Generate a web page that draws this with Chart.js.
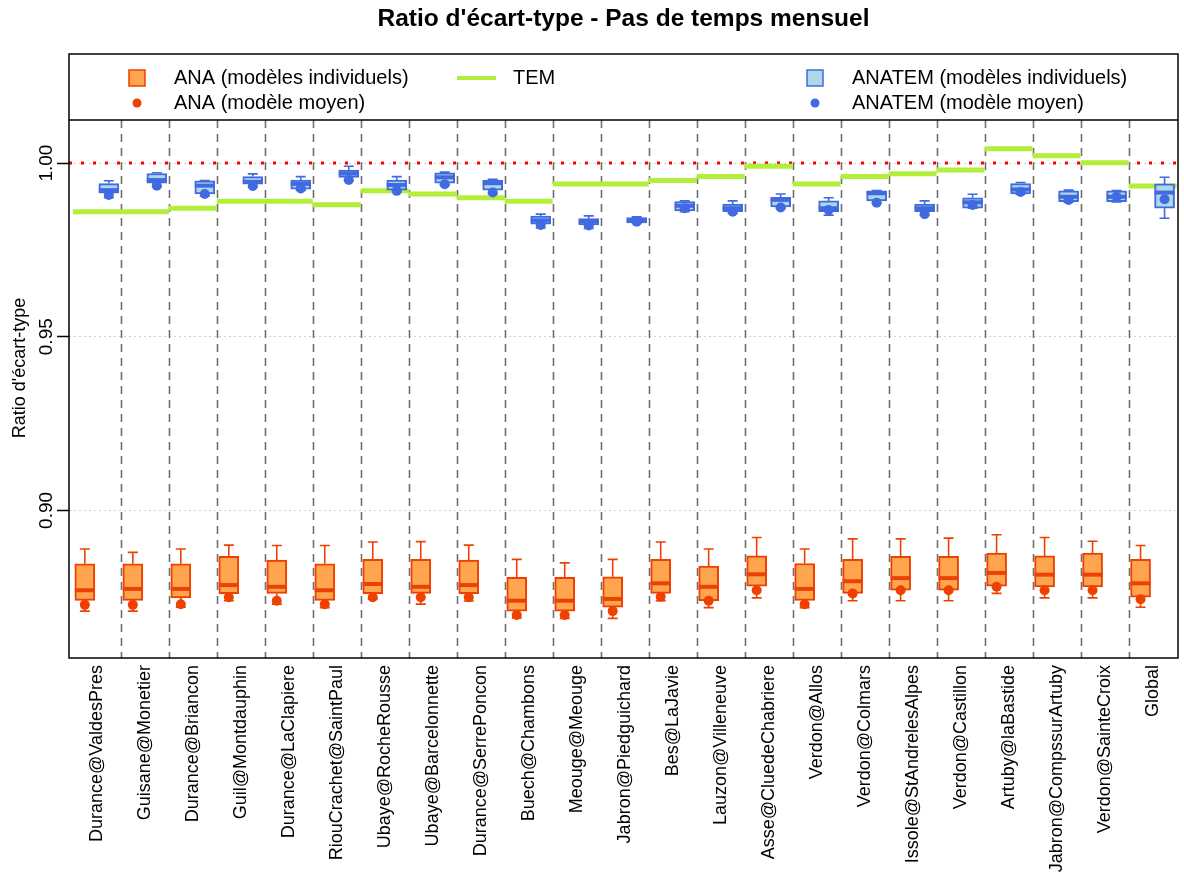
<!DOCTYPE html>
<html>
<head>
<meta charset="utf-8">
<script src="https://cdn.jsdelivr.net/npm/chart.js@4.4.1/dist/chart.umd.min.js"></script>
<style>
  html, body { margin:0; padding:0; background:#fff; }
  canvas { display:block; }
</style>
</head>
<body>
<canvas id="chart" width="1184" height="874"></canvas>
<script>
// Stations (x axis)
const stations = ['Durance@ValdesPres','Guisane@Monetier','Durance@Briancon','Guil@Montdauphin',
  'Durance@LaClapiere','RiouCrachet@SaintPaul','Ubaye@RocheRousse','Ubaye@Barcelonnette',
  'Durance@SerrePoncon','Buech@Chambons','Meouge@Meouge','Jabron@Piedguichard','Bes@LaJavie',
  'Lauzon@Villeneuve','Asse@CluedeChabriere','Verdon@Allos','Verdon@Colmars',
  'Issole@StAndrelesAlpes','Verdon@Castillon','Artuby@laBastide','Jabron@CompssurArtuby',
  'Verdon@SainteCroix','Global'];

// TEM : one value per station
const temRatio = [0.9860,0.9860,0.9870,0.9890,0.9890,0.9880,0.9920,0.9911,0.9900,0.9890,0.9940,0.9940,
  0.9950,0.9961,0.9991,0.9940,0.9961,0.9969,0.9980,1.0041,1.0021,1.0001,0.9934];

// ANA : box stats (individual models) + mean model
const anaLow  = [0.8710,0.8710,0.8721,0.8740,0.8730,0.8720,0.8745,0.8730,0.8739,0.8690,0.8689,0.8689,
  0.8740,0.8720,0.8748,0.8720,0.8740,0.8740,0.8740,0.8761,0.8748,0.8748,0.8721];
const anaQ1   = [0.8741,0.8741,0.8748,0.8760,0.8761,0.8741,0.8760,0.8761,0.8760,0.8710,0.8710,0.8721,
  0.8761,0.8740,0.8782,0.8741,0.8761,0.8770,0.8770,0.8782,0.8780,0.8780,0.8750];
const anaMed  = [0.8770,0.8774,0.8774,0.8785,0.8780,0.8770,0.8788,0.8780,0.8785,0.8740,0.8740,0.8745,
  0.8790,0.8780,0.8816,0.8774,0.8796,0.8805,0.8805,0.8820,0.8815,0.8815,0.8790];
const anaQ3   = [0.8846,0.8846,0.8846,0.8868,0.8857,0.8846,0.8859,0.8859,0.8857,0.8807,0.8807,0.8809,
  0.8859,0.8840,0.8869,0.8847,0.8859,0.8868,0.8868,0.8877,0.8869,0.8877,0.8859];
const anaHigh = [0.8889,0.8879,0.8889,0.8900,0.8899,0.8899,0.8909,0.8910,0.8900,0.8859,0.8849,0.8859,
  0.8909,0.8889,0.8922,0.8889,0.8918,0.8918,0.8920,0.8930,0.8922,0.8911,0.8899];
const anaMean = [0.8728,0.8728,0.8730,0.8750,0.8740,0.8730,0.8750,0.8750,0.8750,0.8699,0.8699,0.8710,
  0.8751,0.8740,0.8770,0.8730,0.8761,0.8770,0.8770,0.8780,0.8770,0.8770,0.8744];

// ANATEM : box stats (individual models) + mean model
const anatemLow  = [0.9900,0.9932,0.9905,0.9932,0.9922,0.9950,0.9918,0.9938,0.9912,0.9813,0.9812,0.9826,
  0.9860,0.9855,0.9870,0.9850,0.9885,0.9850,0.9870,0.9910,0.9887,0.9888,0.9841];
const anatemQ1   = [0.9913,0.9942,0.9911,0.9939,0.9925,0.9959,0.9922,0.9942,0.9922,0.9824,0.9822,0.9828,
  0.9862,0.9860,0.9874,0.9860,0.9891,0.9860,0.9870,0.9911,0.9889,0.9889,0.9870];
const anatemMed  = [0.9922,0.9951,0.9935,0.9946,0.9940,0.9970,0.9937,0.9959,0.9942,0.9835,0.9832,0.9834,
  0.9877,0.9870,0.9894,0.9870,0.9913,0.9870,0.9887,0.9924,0.9903,0.9903,0.9915];
const anatemQ3   = [0.9941,0.9970,0.9949,0.9961,0.9951,0.9980,0.9951,0.9972,0.9951,0.9847,0.9840,0.9843,
  0.9889,0.9882,0.9901,0.9891,0.9920,0.9882,0.9900,0.9941,0.9920,0.9920,0.9940];
const anatemHigh = [0.9949,0.9972,0.9950,0.9969,0.9961,0.9991,0.9961,0.9974,0.9953,0.9853,0.9848,0.9845,
  0.9891,0.9891,0.9911,0.9900,0.9921,0.9891,0.9910,0.9944,0.9922,0.9921,0.9959];
const anatemMean = [0.9908,0.9935,0.9911,0.9934,0.9927,0.9951,0.9920,0.9939,0.9915,0.9822,0.9820,0.9831,
  0.9870,0.9860,0.9872,0.9865,0.9886,0.9853,0.9879,0.9917,0.9894,0.9903,0.9896];

const yTicks = [0.90, 0.95, 1.00];
const refRatio = 1.0;

const FONT = '"Liberation Sans", Arial, sans-serif';
const ANA_FILL = '#FFA54F', ANA_LINE = '#EE4000';
const ANATEM_FILL = '#ADD8E6', ANATEM_LINE = '#4169E1';
const TEM_COLOR = '#B3EE3A';
const X_MIN = 0.42, X_MAX = 23.53;
const LEGEND_H = 66;
const BOX_W = 20;

// one segment per station for TEM, separated by gaps
const temPoints = [];
temRatio.forEach(function(v, i){
  temPoints.push({ x:i + 0.5, y:v }, { x:i + 1.5, y:v }, { x:i + 1.5, y:null });
});

function boxStats(lo, q1, med, q3, hi, shift) {
  return stations.map(function(s, i){
    return { x:i + 1 + shift, lo:lo[i], q1:q1[i], med:med[i], q3:q3[i], hi:hi[i] };
  });
}

const anaBoxes = boxStats(anaLow, anaQ1, anaMed, anaQ3, anaHigh, -0.25);
const anatemBoxes = boxStats(anatemLow, anatemQ1, anatemMed, anatemQ3, anatemHigh, 0.25);

// whiskers, caps and medians drawn right after each box dataset
const boxExtras = {
  id:'boxExtras',
  afterDatasetDraw(chart, args) {
    const ds = chart.data.datasets[args.index];
    if (!ds.stats) return;
    const xs = chart.scales.x, ys = chart.scales.y, ctx = chart.ctx;
    ctx.save();
    ctx.strokeStyle = ds.borderColor;
    ds.stats.forEach(function(s){
      const cx = xs.getPixelForValue(s.x);
      const half = BOX_W / 2;
      ctx.lineWidth = 1.6;
      ctx.beginPath();
      ctx.moveTo(cx, ys.getPixelForValue(s.q3)); ctx.lineTo(cx, ys.getPixelForValue(s.hi));
      ctx.moveTo(cx, ys.getPixelForValue(s.q1)); ctx.lineTo(cx, ys.getPixelForValue(s.lo));
      ctx.moveTo(cx - half / 2, ys.getPixelForValue(s.hi)); ctx.lineTo(cx + half / 2, ys.getPixelForValue(s.hi));
      ctx.moveTo(cx - half / 2, ys.getPixelForValue(s.lo)); ctx.lineTo(cx + half / 2, ys.getPixelForValue(s.lo));
      ctx.stroke();
      ctx.lineWidth = 4;
      ctx.beginPath();
      ctx.moveTo(cx - half, ys.getPixelForValue(s.med)); ctx.lineTo(cx + half, ys.getPixelForValue(s.med));
      ctx.stroke();
    });
    ctx.restore();
  }
};

// station separators, frame, legend and y title
const frame = {
  id:'frame',
  beforeDatasetsDraw(chart) {
    const a = chart.chartArea, xs = chart.scales.x, ctx = chart.ctx;
    ctx.save();
    ctx.strokeStyle = '#707070';
    ctx.lineWidth = 1.6;
    ctx.setLineDash([8, 6]);
    for (let k = 1; k < stations.length; k++) {
      const px = Math.round(xs.getPixelForValue(k + 0.5)) + 0.5;
      ctx.beginPath();
      ctx.moveTo(px, a.top + LEGEND_H);
      ctx.lineTo(px, a.bottom);
      ctx.stroke();
    }
    ctx.restore();
  },
  afterDraw(chart) {
    const a = chart.chartArea, ctx = chart.ctx;
    ctx.save();
    ctx.fillStyle = '#fff';
    ctx.fillRect(a.left, a.top, a.right - a.left, LEGEND_H);
    ctx.strokeStyle = '#000';
    ctx.lineWidth = 1.5;
    ctx.strokeRect(a.left, a.top, a.right - a.left, a.bottom - a.top);
    ctx.beginPath();
    ctx.moveTo(a.left, a.top + LEGEND_H);
    ctx.lineTo(a.right, a.top + LEGEND_H);
    ctx.stroke();

    const r1 = a.top + 24, r2 = a.top + 49;
    ctx.font = '20px ' + FONT;
    ctx.fillStyle = '#000';
    ctx.textBaseline = 'middle';
    ctx.textAlign = 'left';
    // ANA
    ctx.fillStyle = ANA_FILL; ctx.fillRect(129, r1 - 8, 16, 16);
    ctx.strokeStyle = ANA_LINE; ctx.lineWidth = 1.5; ctx.strokeRect(129, r1 - 8, 16, 16);
    ctx.fillStyle = ANA_LINE; ctx.beginPath(); ctx.arc(137, r2, 4.5, 0, Math.PI * 2); ctx.fill();
    ctx.fillStyle = '#000';
    ctx.fillText('ANA (modèles individuels)', 174, r1);
    ctx.fillText('ANA (modèle moyen)', 174, r2);
    // TEM
    ctx.strokeStyle = TEM_COLOR; ctx.lineWidth = 4;
    ctx.beginPath(); ctx.moveTo(457, r1); ctx.lineTo(496, r1); ctx.stroke();
    ctx.fillText('TEM', 513, r1);
    // ANATEM
    ctx.fillStyle = ANATEM_FILL; ctx.fillRect(807, r1 - 8, 16, 16);
    ctx.strokeStyle = ANATEM_LINE; ctx.lineWidth = 1.5; ctx.strokeRect(807, r1 - 8, 16, 16);
    ctx.fillStyle = ANATEM_LINE; ctx.beginPath(); ctx.arc(815, r2, 4.5, 0, Math.PI * 2); ctx.fill();
    ctx.fillStyle = '#000';
    ctx.fillText('ANATEM (modèles individuels)', 852, r1);
    ctx.fillText('ANATEM (modèle moyen)', 852, r2);

    // y axis title
    ctx.font = '18px ' + FONT;
    ctx.textAlign = 'center';
    ctx.translate(20, 368);
    ctx.rotate(-Math.PI / 2);
    ctx.fillText("Ratio d'écart-type", 0, 0);
    ctx.restore();
  }
};

new Chart(document.getElementById('chart'), {
  type:'scatter',
  data:{
    datasets:[
      { type:'line', data:[{ x:X_MIN, y:refRatio }, { x:X_MAX, y:refRatio }],
        borderColor:'#FF0000', borderWidth:3, borderDash:[3, 9], pointRadius:0, order:10 },
      { type:'line', data:temPoints, borderColor:TEM_COLOR, borderWidth:5,
        borderCapStyle:'butt', pointRadius:0, spanGaps:false, order:9 },
      { type:'bar', data:anaBoxes.map(b => ({ x:b.x, y:[b.q1, b.q3] })), stats:anaBoxes,
        backgroundColor:ANA_FILL, borderColor:ANA_LINE, borderWidth:2, borderSkipped:false,
        barThickness:BOX_W, grouped:false, order:8 },
      { type:'bar', data:anatemBoxes.map(b => ({ x:b.x, y:[b.q1, b.q3] })), stats:anatemBoxes,
        backgroundColor:ANATEM_FILL, borderColor:ANATEM_LINE, borderWidth:2, borderSkipped:false,
        barThickness:BOX_W, grouped:false, order:7 },
      { type:'scatter', data:anaMean.map((v, i) => ({ x:i + 0.75, y:v })),
        backgroundColor:ANA_LINE, borderWidth:0, pointRadius:5, order:6 },
      { type:'scatter', data:anatemMean.map((v, i) => ({ x:i + 1.25, y:v })),
        backgroundColor:ANATEM_LINE, borderWidth:0, pointRadius:5, order:5 }
    ]
  },
  options:{
    responsive:false,
    animation:false,
    devicePixelRatio:1,
    layout:{ padding:{ left:0, right:6, top:0, bottom:0 } },
    plugins:{
      legend:{ display:false },
      tooltip:{ enabled:false },
      title:{ display:true, fullSize:false, text:"Ratio d'écart-type - Pas de temps mensuel",
        color:'#000', font:{ family:FONT, size:24.5, weight:'bold' }, padding:{ top:5, bottom:19.6 } }
    },
    scales:{
      x:{
        type:'linear', min:X_MIN, max:X_MAX, offset:false,
        afterBuildTicks: s => { s.ticks = stations.map((n, i) => ({ value:i + 1 })); },
        afterFit: s => { s.height = 216; },
        grid:{ display:false, drawTicks:false },
        border:{ display:false },
        ticks:{ autoSkip:false, minRotation:90, maxRotation:90, padding:7, color:'#000',
          font:{ family:FONT, size:18 }, callback:(v, i) => stations[i] }
      },
      y:{
        type:'linear', min:0.8575, max:1.0314,
        afterBuildTicks: s => { s.ticks = yTicks.map(v => ({ value:v })); },
        afterFit: s => { s.width = 69; },
        grid:{ color:'#cfcfcf', lineWidth:1, drawTicks:true, tickLength:12,
          tickColor:'#000', tickWidth:1.5, tickBorderDash:[] },
        border:{ display:false, dash:[2, 3] },
        ticks:{ minRotation:90, maxRotation:90, crossAlign:'center', padding:-8, color:'#000',
          font:{ family:FONT, size:19 }, callback:v => v.toFixed(2) },
        title:{ display:false }
      }
    }
  },
  plugins:[boxExtras, frame]
});
</script>
</body>
</html>
